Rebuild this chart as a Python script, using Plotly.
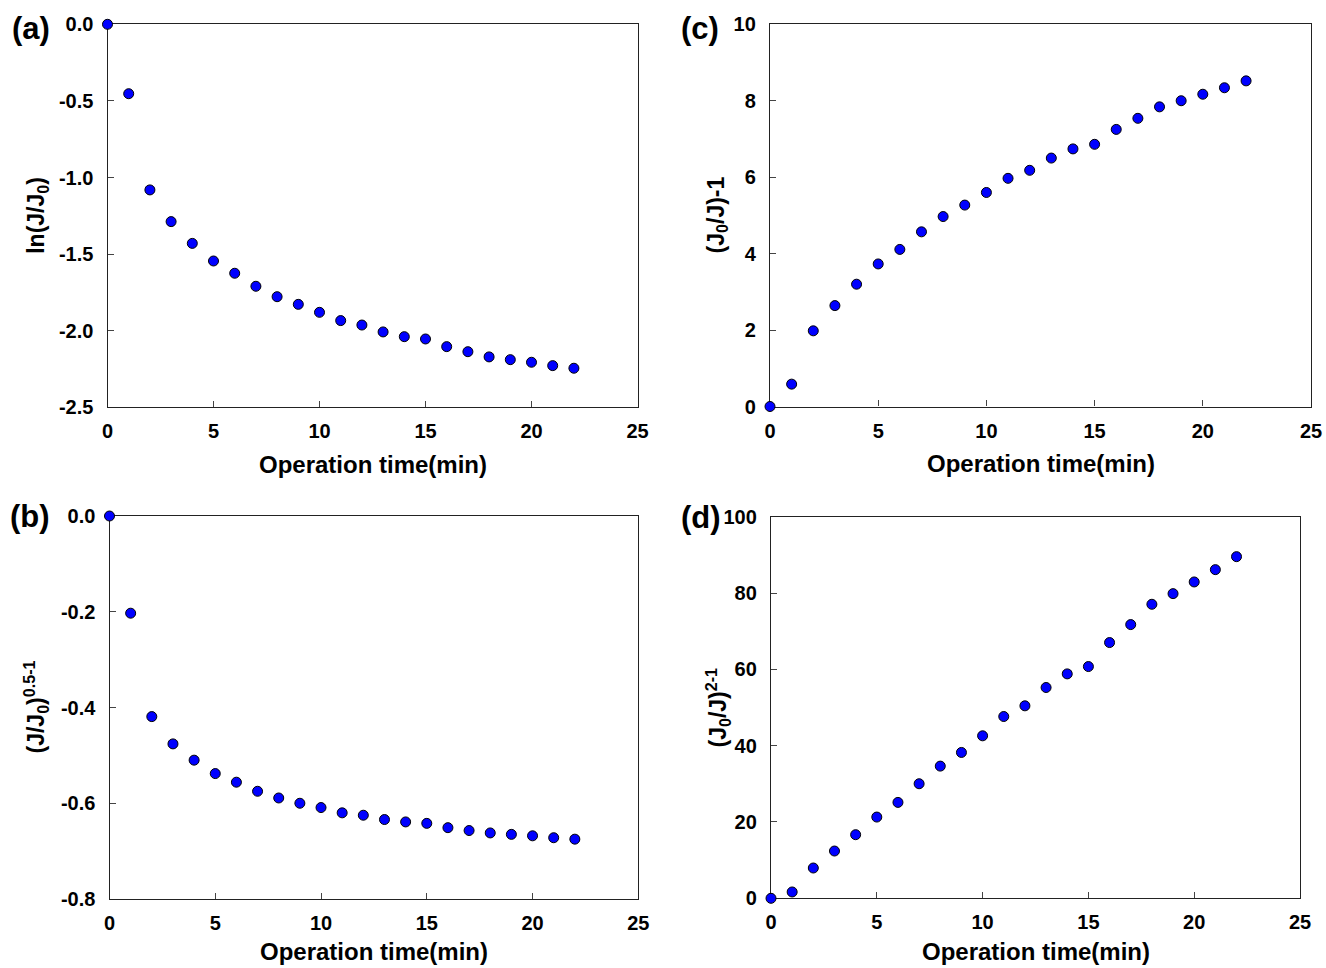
import plotly.graph_objects as go

W, H = 1326, 968

# ---------------- data ----------------
time_min = list(range(23))
ln_flux = [0.0, -0.453, -1.081, -1.288, -1.430, -1.545, -1.625, -1.710, -1.778, -1.828,
           -1.880, -1.934, -1.963, -2.008, -2.039, -2.054, -2.104, -2.137, -2.171, -2.189,
           -2.206, -2.228, -2.245]
sqrt_flux = [0.0, -0.203, -0.419, -0.476, -0.510, -0.538, -0.556, -0.575, -0.589, -0.600,
             -0.609, -0.620, -0.625, -0.634, -0.639, -0.642, -0.651, -0.657, -0.662, -0.665,
             -0.668, -0.672, -0.675]
inv_flux = [0.0, 0.585, 1.98, 2.64, 3.20, 3.73, 4.11, 4.57, 4.97, 5.27, 5.60, 5.97, 6.18,
            6.50, 6.74, 6.86, 7.25, 7.54, 7.84, 8.00, 8.17, 8.34, 8.52]
sq_flux = [0.0, 1.66, 7.94, 12.39, 16.67, 21.29, 25.13, 30.02, 34.64, 38.22, 42.58, 47.64,
           50.44, 55.24, 58.81, 60.73, 67.02, 71.73, 77.05, 79.84, 82.90, 86.13, 89.53]

x_tickvals = [0, 5, 10, 15, 20, 25]
x_ticktext = ["0", "5", "10", "15", "20", "25"]
a_tickvals = [0.0, -0.5, -1.0, -1.5, -2.0, -2.5]
a_ticktext = ["0.0", "-0.5", "-1.0", "-1.5", "-2.0", "-2.5"]
b_tickvals = [0.0, -0.2, -0.4, -0.6, -0.8]
b_ticktext = ["0.0", "-0.2", "-0.4", "-0.6", "-0.8"]
c_tickvals = [0, 2, 4, 6, 8, 10]
c_ticktext = ["0", "2", "4", "6", "8", "10"]
d_tickvals = [0, 20, 40, 60, 80, 100]
d_ticktext = ["0", "20", "40", "60", "80", "100"]

panel_labels = ["(a)", "(b)", "(c)", "(d)"]
x_title = "Operation time(min)"
y_titles = ["ln(J/J<sub>0</sub>)", "(J/J<sub>0</sub>)<sup>0.5-1</sup>",
            "(J<sub>0</sub>/J)-1", "(J<sub>0</sub>/J)<sup>2-1</sup>"]

FONT = "Liberation Sans, Arial, sans-serif"


def px_x(p):
    return p / W


def px_y(p):
    return 1 - p / H


# panel boxes in pixels: (left, right, top, bottom)
boxes = [
    (107.5, 637.5, 24.3, 407.3),   # a
    (109.5, 638.3, 516.0, 899.0),  # b
    (770.0, 1311.0, 24.3, 406.5),  # c
    (771.0, 1300.0, 516.7, 898.3), # d
]

series = [ln_flux, sqrt_flux, inv_flux, sq_flux]
yranges = [[-2.5, 0], [-0.8, 0], [0, 10], [0, 100]]
ytv = [a_tickvals, b_tickvals, c_tickvals, d_tickvals]
ytt = [a_ticktext, b_ticktext, c_ticktext, d_ticktext]

fig = go.Figure()
layout = dict(
    template="none",
    width=W, height=H,
    margin=dict(l=0, r=0, t=0, b=0, autoexpand=False),
    paper_bgcolor="white", plot_bgcolor="white",
    showlegend=False,
    font=dict(family=FONT, color="black"),
)

annotations = []
label_pos = [(30.5, 28), (30.3, 516), (700, 29), (701, 517)]
ytitle_x = [38, 35, 717, 717]

for i in range(4):
    sfx = "" if i == 0 else str(i + 1)
    l, r, t, b = boxes[i]
    fig.add_trace(go.Scatter(
        x=time_min, y=series[i], mode="markers",
        xaxis="x" + sfx, yaxis="y" + sfx,
        marker=dict(size=10, color="#0000FF", line=dict(color="black", width=1)),
        cliponaxis=False,
    ))
    common = dict(
        showline=True, linecolor="#222222", linewidth=1.3, mirror=True,
        ticks="inside", ticklen=6, tickwidth=1, tickcolor="#444444",
        showgrid=False, zeroline=False, automargin=False,
        tickfont=dict(family=FONT, size=20, color="black", weight="bold"),
        layer="below traces",
    )
    layout["xaxis" + sfx] = dict(
        common, domain=[px_x(l), px_x(r)], range=[0, 25],
        tickvals=x_tickvals, ticktext=x_ticktext,
        anchor="y" + sfx, ticklabelstandoff=6,
    )
    layout["yaxis" + sfx] = dict(
        common, domain=[px_y(b), px_y(t)], range=yranges[i],
        tickvals=ytv[i], ticktext=ytt[i],
        anchor="x" + sfx, ticklabelstandoff=9,
    )
    annotations.append(dict(
        text="<b>" + x_title + "</b>", xref="paper", yref="paper",
        x=px_x((l + r) / 2), y=px_y(min(b + 57, 951)), xanchor="center", yanchor="middle",
        showarrow=False, font=dict(family=FONT, size=24, color="black"),
    ))
    annotations.append(dict(
        text="<b>" + y_titles[i] + "</b>", xref="paper", yref="paper",
        x=px_x(ytitle_x[i]), y=px_y((t + b) / 2), xanchor="center", yanchor="middle",
        textangle=-90, showarrow=False, font=dict(family=FONT, size=23, color="black"),
    ))
    lx, ly = label_pos[i]
    annotations.append(dict(
        text="<b>" + panel_labels[i] + "</b>", xref="paper", yref="paper",
        x=px_x(lx), y=px_y(ly), xanchor="center", yanchor="middle",
        showarrow=False, font=dict(family=FONT, size=31, color="black"),
    ))

layout["annotations"] = annotations
fig.update_layout(**layout)
fig.write_html("out.html")
